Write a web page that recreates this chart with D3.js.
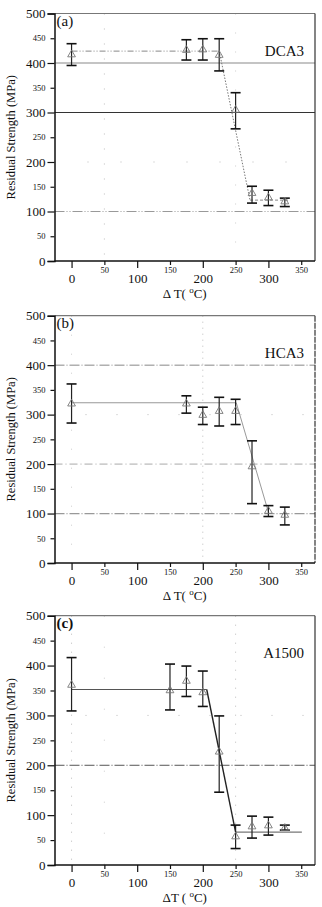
<!DOCTYPE html>
<html>
<head>
<meta charset="utf-8">
<script src="https://cdn.jsdelivr.net/npm/d3@7"></script>
<style>
  html, body { margin: 0; padding: 0; background: #fff; }
  svg { display: block; }
  text { font-family: "Liberation Serif", "Times New Roman", "DejaVu Serif", serif; fill: #111; }
</style>
</head>
<body>
<svg id="chart" width="322" height="907"></svg>
<script>
// ---------- data ----------
const xMajorTicks = [0, 100, 200, 300];
const xMinorTicks = [50, 150, 250, 350];
const yMajorTicks = [0, 100, 200, 300, 400, 500];
const yMinorTicks = [50, 150, 250, 350, 450];

// (a) DCA3
const tempA = [0, 175, 200, 225, 250, 275, 300, 325];
const meanA = [417, 426, 427, 416, 305, 137, 128, 120];
const highA = [439, 447, 449, 449, 340, 151, 143, 127];
const lowA  = [395, 406, 406, 384, 267, 117, 112, 110];
const fitXA = [0, 225, 272, 333];
const fitYA = [424, 424, 123, 123];

// (b) HCA3
const tempB = [0, 175, 200, 225, 250, 275, 300, 325];
const meanB = [322, 322, 299, 307, 307, 195, 105, 97];
const highB = [362, 338, 315, 335, 331, 247, 116, 113];
const lowB  = [283, 303, 280, 277, 280, 120, 94, 77];
const fitXB = [0, 251, 300];
const fitYB = [324, 324, 103];

// (c) A1500
const tempC = [0, 150, 175, 200, 225, 250, 275, 300, 325];
const meanC = [361, 350, 369, 346, 227, 57, 77, 79, 74];
const highC = [416, 403, 399, 389, 299, 80, 98, 96, 80];
const lowC  = [309, 311, 338, 318, 146, 33, 54, 60, 70];
const fitXC = [0, 206, 250, 351];
const fitYC = [352, 352, 66, 66];

const panelLabels = ["(a)", "(b)", "(c)"];
const materials = ["DCA3", "HCA3", "A1500"];
const yTitle = "Residual Strength (MPa)";

// ---------- layout ----------
const FONT = "'Liberation Serif', 'Times New Roman', serif";
const svg = d3.select("#chart");
const left = 54.5, right = 315;
const xDomain = [-26, 371];

const panels = [
  { top: 13.5, bottom: 261, temp: tempA, mean: meanA, high: highA, low: lowA,
    fitX: fitXA, fitY: fitYA, label: panelLabels[0], mat: materials[0], xt: "a",
    fitStyles: [
      { stroke: "#888", width: 1, dash: "6,2,1,2,1,2" },
      { stroke: "#777", width: 1, dash: "1.5,1.5" },
      { stroke: "#888", width: 1, dash: "3,2" }
    ],
    grid: [
      { y: 400, stroke: "#8a8a8a", width: 1.2, dash: null },
      { y: 300, stroke: "#333", width: 1, dash: null },
      { y: 100, stroke: "#999", width: 1.2, dash: "10,2,1,2,1,2" },
      { y: 200, stroke: "#bbb", width: 1, dash: "1,32" },
      { x: 50, stroke: "#bbb", width: 1, dash: "1,14" },
      { x: 250, stroke: "#ccc", width: 1, dash: "1,18" }
    ] },
  { top: 315.7, bottom: 563, temp: tempB, mean: meanB, high: highB, low: lowB,
    fitX: fitXB, fitY: fitYB, label: panelLabels[1], mat: materials[1], xt: "b",
    fitStyles: [
      { stroke: "#999", width: 1.2, dash: null },
      { stroke: "#999", width: 1, dash: null }
    ],
    grid: [
      { y: 400, stroke: "#888", width: 1, dash: "10,2,1,2" },
      { y: 200, stroke: "#aaa", width: 1, dash: "8,3,1,3" },
      { y: 100, stroke: "#999", width: 1.2, dash: "10,2,1,2" },
      { y: 300, stroke: "#bbb", width: 1, dash: "1,30" },
      { x: 200, stroke: "#bbb", width: 1, dash: "1,5" },
      { x: 0, stroke: "#ccc", width: 1, dash: "1,18" }
    ] },
  { top: 615.7, bottom: 865, temp: tempC, mean: meanC, high: highC, low: lowC,
    fitX: fitXC, fitY: fitYC, label: panelLabels[2], mat: materials[2], xt: "c",
    fitStyles: [
      { stroke: "#555", width: 1.2, dash: null },
      { stroke: "#222", width: 1.4, dash: null },
      { stroke: "#777", width: 1.1, dash: null }
    ],
    grid: [
      { y: 200, stroke: "#555", width: 1, dash: "10,2,1,2" },
      { y: 300, stroke: "#bbb", width: 1, dash: "1,30" },
      { x: 250, stroke: "#bbb", width: 1, dash: "1,8" },
      { x: 0, stroke: "#bbb", width: 1, dash: "1,8" },
      { x: 50, stroke: "#ccc", width: 1, dash: "1,30" }
    ] }
];

panels.forEach(p => {
  const x = d3.scaleLinear().domain(xDomain).range([left, right]);
  const y = d3.scaleLinear().domain([0, 500]).range([p.bottom, p.top]);
  const g = svg.append("g");

  // scan-like grid lines
  p.grid.forEach(gl => {
    const ln = g.append("line").attr("stroke", gl.stroke).attr("stroke-width", gl.width);
    if (gl.dash) ln.attr("stroke-dasharray", gl.dash);
    if (gl.y !== undefined) {
      ln.attr("x1", left).attr("x2", right).attr("y1", y(gl.y)).attr("y2", y(gl.y));
    } else {
      ln.attr("x1", x(gl.x)).attr("x2", x(gl.x)).attr("y1", p.top).attr("y2", p.bottom);
    }
  });

  // frame top & right
  g.append("line").attr("x1", left).attr("x2", right).attr("y1", p.top).attr("y2", p.top)
    .attr("stroke", "#777").attr("stroke-width", 1.2);
  g.append("line").attr("x1", right).attr("x2", right).attr("y1", p.top).attr("y2", p.bottom)
    .attr("stroke", "#333").attr("stroke-width", 1.2)
    .attr("stroke-dasharray", p.xt === "b" ? "6,1" : null);

  // axes
  const yMaj = d3.axisLeft(y).tickValues(yMajorTicks).tickSize(7).tickPadding(2).tickFormat(d3.format("d"));
  const yMin = d3.axisLeft(y).tickValues(yMinorTicks).tickSize(4).tickPadding(5).tickFormat(d3.format("d"));
  const xMaj = d3.axisBottom(x).tickValues(xMajorTicks).tickSize(7).tickPadding(6).tickFormat(d3.format("d"));
  const xMin = d3.axisBottom(x).tickValues(xMinorTicks).tickSize(4).tickPadding(5).tickFormat(d3.format("d"));

  const gy1 = g.append("g").attr("transform", `translate(${left},0)`).call(yMaj);
  const gy2 = g.append("g").attr("transform", `translate(${left},0)`).call(yMin);
  const gx1 = g.append("g").attr("transform", `translate(0,${p.bottom})`).call(xMaj);
  const gx2 = g.append("g").attr("transform", `translate(0,${p.bottom})`).call(xMin);
  [gy1, gy2, gx1, gx2].forEach(a => {
    a.attr("font-family", FONT);
    a.selectAll("path.domain").attr("stroke", "#111").attr("stroke-width", 1.5);
    a.selectAll(".tick line").attr("stroke", "#111").attr("stroke-width", 1.2);
    a.selectAll("text").attr("fill", "#111").style("font-family", FONT);
  });
  gy1.selectAll("text").style("font-size", "13px");
  gy2.selectAll("text").style("font-size", "8.5px").attr("fill", "#333");
  gx1.selectAll("text").style("font-size", "13px");
  gx2.selectAll("text").style("font-size", "8.5px").attr("fill", "#333").attr("dy", "0.3em");
  gy2.select("path.domain").remove();
  gx2.select("path.domain").remove();
  gx1.select("path.domain").attr("d", `M${left},0H${right}`);

  // fit lines
  for (let i = 0; i < p.fitX.length - 1; i++) {
    const st = p.fitStyles[i];
    const ln = g.append("line")
      .attr("x1", x(p.fitX[i])).attr("y1", y(p.fitY[i]))
      .attr("x2", x(p.fitX[i + 1])).attr("y2", y(p.fitY[i + 1]))
      .attr("stroke", st.stroke).attr("stroke-width", st.width);
    if (st.dash) ln.attr("stroke-dasharray", st.dash);
  }

  // error bars
  const idx = d3.range(p.temp.length);
  const eb = g.append("g").selectAll("g").data(idx).join("g");
  eb.append("line")
    .attr("x1", i => x(p.temp[i])).attr("x2", i => x(p.temp[i]))
    .attr("y1", i => y(p.high[i])).attr("y2", i => y(p.low[i]))
    .attr("stroke", "#222").attr("stroke-width", 1.2);
  eb.append("line")
    .attr("x1", i => x(p.temp[i]) - 5).attr("x2", i => x(p.temp[i]) + 5)
    .attr("y1", i => y(p.high[i])).attr("y2", i => y(p.high[i]))
    .attr("stroke", "#111").attr("stroke-width", 1.6);
  eb.append("line")
    .attr("x1", i => x(p.temp[i]) - 5).attr("x2", i => x(p.temp[i]) + 5)
    .attr("y1", i => y(p.low[i])).attr("y2", i => y(p.low[i]))
    .attr("stroke", "#111").attr("stroke-width", 1.6);

  // triangles
  const tri = d3.symbol().type(d3.symbolTriangle).size(26);
  g.append("g").selectAll("path").data(idx).join("path")
    .attr("d", tri)
    .attr("transform", i => `translate(${x(p.temp[i])},${y(p.mean[i])})`)
    .attr("fill", "none").attr("stroke", "#777").attr("stroke-width", 0.9);

  // labels
  g.append("text").attr("x", 56.5).attr("y", p.top + 12.5)
    .style("font-family", FONT)
    .style("font-size", "15px").style("font-weight", p.xt === "c" ? "bold" : "normal")
    .text(p.label);
  g.append("text").attr("x", 304).attr("y", p.top + 42).attr("text-anchor", "end")
    .style("font-family", FONT).style("font-size", "15px").text(p.mat);

  // y title
  const cy = (p.top + p.bottom) / 2;
  g.append("text").attr("transform", `translate(15,${cy}) rotate(-90)`)
    .attr("text-anchor", "middle").style("font-family", FONT).style("font-size", "12.5px").text(yTitle);

  // x title
  const xt = g.append("text").attr("x", (left + right) / 2).attr("y", p.bottom + 37)
    .attr("text-anchor", "middle").style("font-family", FONT).style("font-size", "13px");
  if (p.xt === "c") {
    xt.append("tspan").text("\u0394T ( ");
  } else {
    xt.append("tspan").text("\u0394 T( ");
  }
  xt.append("tspan").attr("dy", "-5").style("font-size", "9px").text("o");
  xt.append("tspan").attr("dy", "5").text("C)");
});
</script>
</body>
</html>
